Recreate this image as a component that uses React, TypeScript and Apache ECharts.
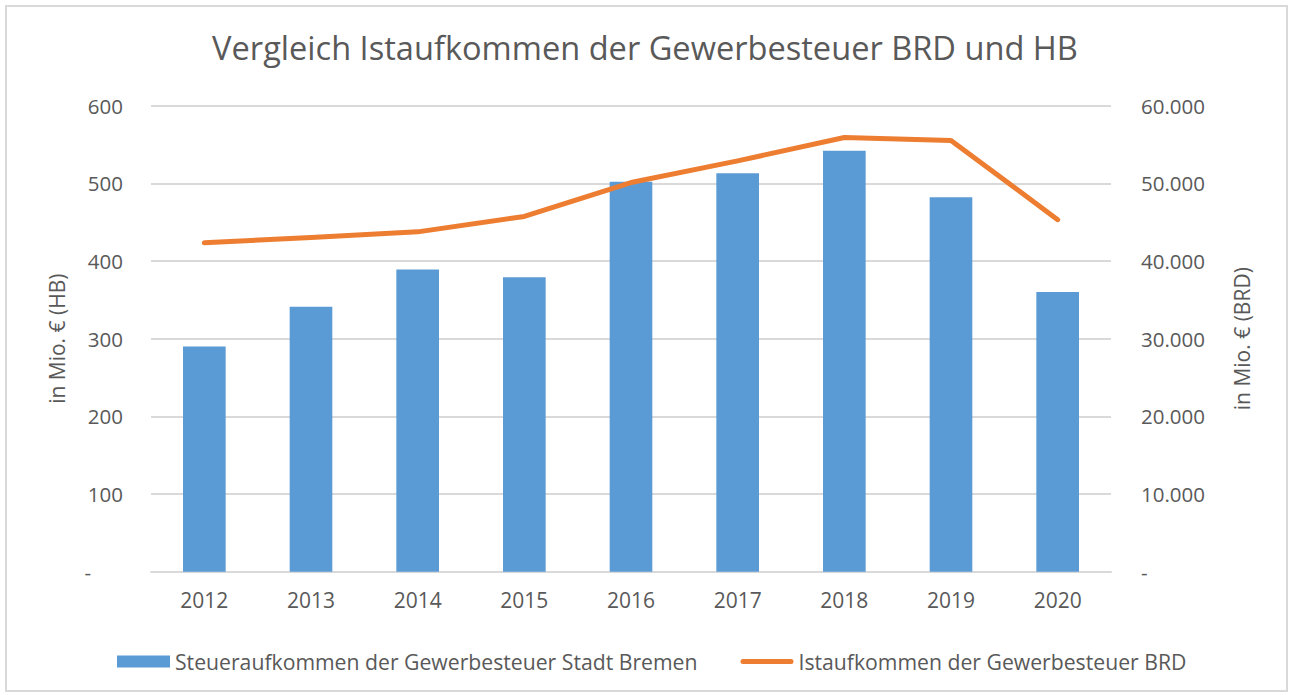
import React, { useEffect, useRef } from "react";
import * as echarts from "echarts";

const years = ["2012", "2013", "2014", "2015", "2016", "2017", "2018", "2019", "2020"];
const bremen = [290, 341, 389, 379, 502, 513, 542, 482, 360];
const brd = [42345, 43027, 43756, 45737, 50103, 52899, 55904, 55527, 45325];
const titleText = "Vergleich Istaufkommen der Gewerbesteuer BRD und HB";
const barName = "Steueraufkommen der Gewerbesteuer Stadt Bremen";
const lineName = "Istaufkommen der Gewerbesteuer BRD";

const FONT = "'Open Sans', sans-serif";
const TXT = "#595959";
const GRID = "#d9d9d9";
const LINE_ICON = "path://M2.5,0 L50.5,0 A2.5,2.5 0 0 1 50.5,5 L2.5,5 A2.5,2.5 0 0 1 2.5,0 Z";

export default function App() {
  const ref = useRef<HTMLDivElement>(null);
  useEffect(() => {
    const chart = echarts.init(ref.current!, null, { renderer: "svg" });
    chart.setOption({
      animation: false,
      backgroundColor: "#fff",
      textStyle: { fontFamily: FONT },
      title: {
        text: titleText,
        left: "center",
        top: 26,
        textStyle: { fontFamily: FONT, fontSize: 32.6, fontWeight: "normal", color: TXT },
      },
      graphic: [
        {
          type: "rect",
          shape: { x: 6, y: 6, width: 1281, height: 685 },
          style: { fill: "none", stroke: GRID, lineWidth: 2 },
          silent: true,
        },
      ],
      legend: {
        left: 112,
        top: 646,
        itemGap: 43,
        itemWidth: 53,
        itemHeight: 12,
        symbolKeepAspect: true,
        textStyle: { fontFamily: FONT, fontSize: 21.2, color: TXT },
        data: [
          { name: barName, icon: "rect" },
          { name: lineName, icon: LINE_ICON, itemStyle: { color: "#ED7D31" } },
        ],
      },
      grid: { left: 151, right: 179, top: 105.7, bottom: 123.3, containLabel: false },
      xAxis: {
        type: "category",
        data: years,
        axisTick: { show: false },
        axisLine: { lineStyle: { color: GRID, width: 2 } },
        axisLabel: { color: TXT, fontSize: 21, fontFamily: FONT, margin: 18 },
      },
      yAxis: [
        {
          type: "value",
          min: 0,
          max: 600,
          interval: 100,
          name: "in Mio. € (HB)",
          nameLocation: "middle",
          nameRotate: 90,
          nameGap: 84,
          nameTextStyle: { color: TXT, fontSize: 21, fontFamily: FONT },
          axisLine: { show: false },
          axisTick: { show: false },
          splitLine: { lineStyle: { color: GRID, width: 2 } },
          axisLabel: {
            color: TXT,
            fontSize: 20.5,
            fontFamily: FONT,
            margin: 28,
            formatter: (v: number) => (v === 0 ? "-      " : String(v)),
          },
        },
        {
          type: "value",
          min: 0,
          max: 60000,
          interval: 10000,
          name: "in Mio. € (BRD)",
          nameLocation: "middle",
          nameRotate: 90,
          nameGap: 120,
          nameTextStyle: { color: TXT, fontSize: 21, fontFamily: FONT },
          axisLine: { show: false },
          axisTick: { show: false },
          splitLine: { show: false },
          axisLabel: {
            color: TXT,
            fontSize: 20.5,
            fontFamily: FONT,
            margin: 30,
            formatter: (v: number) =>
              v === 0 ? "-" : String(v).replace(/\B(?=(\d{3})+(?!\d))/g, "."),
          },
        },
      ],
      series: [
        {
          name: barName,
          type: "bar",
          data: bremen,
          barWidth: "40%",
          itemStyle: { color: "#5B9BD5" },
          yAxisIndex: 0,
        },
        {
          name: lineName,
          type: "line",
          data: brd,
          yAxisIndex: 1,
          symbol: "none",
          showSymbol: false,
          itemStyle: { color: "#ED7D31" },
          lineStyle: { color: "#ED7D31", width: 5, cap: "round", join: "round" },
        },
      ],
    });
    return () => chart.dispose();
  }, []);
  return (
    <div
      ref={ref}
      style={{ position: "fixed", left: 0, top: 0, width: 1290, height: 695 }}
    />
  );
}
